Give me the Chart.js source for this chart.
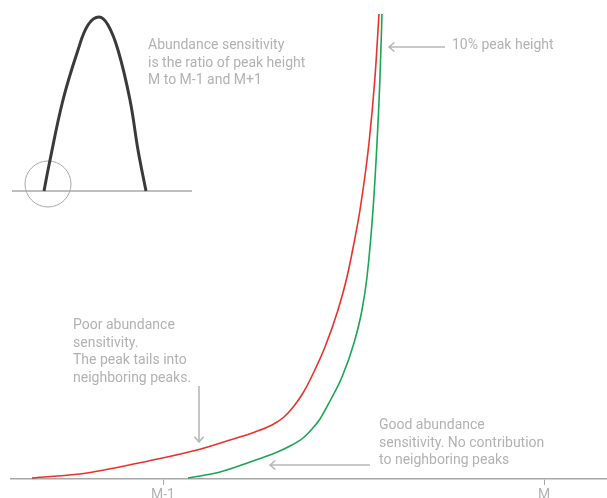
<!DOCTYPE html>
<html lang="en">
<head>
  <meta charset="UTF-8">
  <title>Abundance sensitivity</title>
  <script src="https://cdn.jsdelivr.net/npm/chart.js"></script>
  <style>
    html, body { margin: 0; padding: 0; background: #fff; }
    #wrap { width: 607px; height: 498px; }
  </style>
</head>
<body>
  <div id="wrap"><canvas id="chart" width="607" height="498"></canvas></div>

  <script>
    // x in horizontal units along the mass axis, y = height above baseline
    const tickValues = [163, 544];
    const tickLabels = ["M-1", "M"];

    const poorX = [32, 87, 153, 197, 230, 255, 272, 284, 294, 303, 310, 325, 338, 347, 354, 360, 369, 375, 379];
    const poorY = [1, 6, 19, 29, 39, 47, 54, 62, 73, 86, 99, 132, 169, 202, 236, 269, 336, 402, 465];

    const goodX = [188, 220, 250, 275, 292, 303, 312, 320, 330, 342, 354, 362, 367, 373, 377, 380, 382];
    const goodY = [1, 7, 17, 26, 34, 41, 50, 60, 78, 102, 136, 169, 202, 269, 336, 402, 465];

    // small inset peak
    const peakX = [44, 49, 63, 78, 88, 99, 108, 118, 130, 138, 146];
    const peakY = [288, 314, 379, 429, 454, 462, 454, 429, 379, 329, 288];
    const insetBaseX = [12, 192];
    const insetBaseY = [288, 288];
    const circleX = [48];
    const circleY = [295];

    const toPts = (xs, ys) => xs.map((x, i) => ({ x: x, y: ys[i] }));

    const textColor = '#b2b2b2';
    const arrowColor = '#b8b8b8';

    function arrow(ctx, x1, y1, x2, y2) {
      const a = Math.atan2(y2 - y1, x2 - x1);
      const h = 7;
      ctx.beginPath();
      ctx.moveTo(x1, y1);
      ctx.lineTo(x2, y2);
      ctx.moveTo(x2 - h * Math.cos(a - 0.7), y2 - h * Math.sin(a - 0.7));
      ctx.lineTo(x2, y2);
      ctx.lineTo(x2 - h * Math.cos(a + 0.7), y2 - h * Math.sin(a + 0.7));
      ctx.stroke();
    }

    const notes = {
      id: 'notes',
      afterDraw(chart) {
        const ctx = chart.ctx;
        const xs = chart.scales.x, ys = chart.scales.y;
        const px = v => xs.getPixelForValue(v);
        const py = v => ys.getPixelForValue(v);
        ctx.save();
        ctx.fillStyle = textColor;
        ctx.font = '14px Roboto';
        ctx.textBaseline = 'alphabetic';
        const block = (lines, x, y, lh) => lines.forEach((t, i) => ctx.fillText(t, x, y + i * lh));
        block(["Abundance sensitivity", "is the ratio of peak height", "M to M-1 and M+1"], 148, 49, 17.5);
        block(["10% peak height"], 452, 49, 18);
        block(["Poor abundance", "sensitivity.", "The peak tails into", "neighboring peaks."], 73, 329, 17.5);
        block(["Good abundance", "sensitivity. No contribution", "to neighboring peaks"], 379, 429, 17.5);

        ctx.strokeStyle = arrowColor;
        ctx.lineWidth = 1.6;
        arrow(ctx, 445, 47, 389, 47);
        arrow(ctx, px(199), py(93), px(199), py(37));
        arrow(ctx, 370, 465, 270, 465);
        ctx.restore();
      }
    };

    new Chart(document.getElementById('chart'), {
      type: 'line',
      data: {
        datasets: [
          { data: toPts(poorX, poorY), borderColor: '#e8322b', borderWidth: 1.6, pointRadius: 0, cubicInterpolationMode: 'monotone' },
          { data: toPts(goodX, goodY), borderColor: '#1aa655', borderWidth: 1.6, pointRadius: 0, cubicInterpolationMode: 'monotone' },
          { data: toPts(peakX, peakY), borderColor: '#3a3a3a', borderWidth: 3, pointRadius: 0, tension: 0.4 },
          { data: toPts(insetBaseX, insetBaseY), borderColor: '#a8a8a8', borderWidth: 1.3, pointRadius: 0 },
          { type: 'scatter', data: toPts(circleX, circleY), pointRadius: 23, pointBorderColor: '#a8a8a8', pointBorderWidth: 1, pointBackgroundColor: 'rgba(0,0,0,0)', showLine: false, clip: false }
        ]
      },
      options: {
        responsive: false,
        animation: false,
        layout: { autoPadding: false, padding: { left: 11, right: 0, top: 0, bottom: 0 } },
        plugins: { legend: { display: false }, tooltip: { enabled: false } },
        scales: {
          x: {
            type: 'linear',
            min: 11,
            max: 607,
            afterFit(scale) { scale.height = 19; },
            afterBuildTicks(scale) { scale.ticks = tickValues.map(v => ({ value: v })); },
            border: { display: true, color: '#a8a8a8', width: 1.6 },
            grid: { drawOnChartArea: false, drawTicks: true, tickLength: 6, color: '#a8a8a8', tickWidth: 1 },
            ticks: {
              padding: 2,
              color: textColor,
              font: { family: 'Roboto', size: 14 },
              callback: (v) => tickLabels[tickValues.indexOf(v)] || ''
            }
          },
          y: { display: false, min: 0, max: 479 }
        }
      },
      plugins: [notes]
    });
  </script>
</body>
</html>
